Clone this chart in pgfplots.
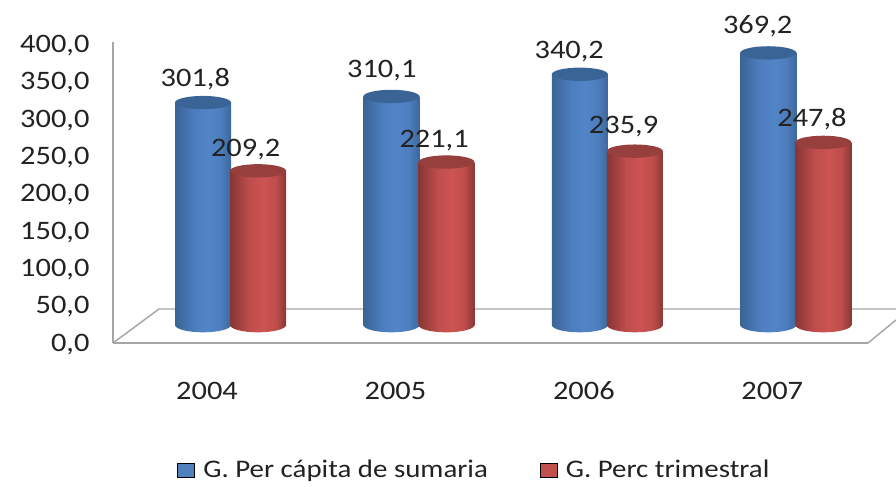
\documentclass[border=0pt]{standalone}
\usepackage{pgfplots}
\usepackage{fontspec}
\setmainfont[FakeStretch=1.14]{Carlito}
\pgfplotsset{compat=1.18}
\definecolor{txt}{HTML}{222222}
\definecolor{axl}{HTML}{A6A6A6}
\definecolor{bl}{HTML}{4F81BD}
\definecolor{rd}{HTML}{C0504D}
\definecolor{bltop}{HTML}{3A6496}
\definecolor{rdtop}{HTML}{963F3C}
\pgfdeclarehorizontalshading{blueCyl}{100bp}{rgb(0bp)=(0.227,0.392,0.588);rgb(25bp)=(0.227,0.392,0.588);rgb(42bp)=(0.300,0.490,0.745);rgb(55bp)=(0.322,0.522,0.784);rgb(66bp)=(0.300,0.490,0.745);rgb(75bp)=(0.235,0.408,0.608);rgb(100bp)=(0.235,0.408,0.608)}
\pgfdeclarehorizontalshading{redCyl}{100bp}{rgb(0bp)=(0.529,0.212,0.204);rgb(25bp)=(0.529,0.212,0.204);rgb(42bp)=(0.745,0.302,0.298);rgb(55bp)=(0.804,0.329,0.322);rgb(66bp)=(0.745,0.302,0.298);rgb(75bp)=(0.541,0.22,0.212);rgb(100bp)=(0.541,0.22,0.212)}
\pgfdeclareplotmark{topB}{\fill[bltop,draw=none,rotate=6] (canvas cs:x=0pt,y=0pt) ellipse [x radius=21pt,y radius=5pt];}
\pgfdeclareplotmark{topR}{\fill[rdtop,draw=none,rotate=6] (canvas cs:x=0pt,y=0pt) ellipse [x radius=21pt,y radius=5pt];}
\pgfdeclareplotmark{botB}{\shade[shading=blueCyl,draw=none,rotate=3] (canvas cs:x=0pt,y=0pt) ellipse [x radius=21pt,y radius=5.5pt];}
\pgfdeclareplotmark{botR}{\shade[shading=redCyl,draw=none,rotate=3] (canvas cs:x=0pt,y=0pt) ellipse [x radius=21pt,y radius=5.5pt];}
% one cylinder: #1 blue/red marks suffix, #2 shading, #3 group shift, #4 label xshift, #5 label yshift, #6 x, #7 value
\newcommand{\cyl}[7]{%
  \addplot[only marks,mark=bot#1,xshift=#3,forget plot] coordinates {(#6,0)};
  \addplot[ybar,bar width=42pt,bar shift=0pt,draw=none,shading=#2,xshift=#3,forget plot,
    nodes near coords,every node near coord/.append style={xshift=#4,yshift=#5}] coordinates {(#6,#7)};
  \addplot[only marks,mark=top#1,xshift=#3,forget plot] coordinates {(#6,#7)};
}
\newcommand{\px}[2]{({#1*0.75pt},{(486-#2)*0.75pt})}
\begin{document}
\begin{tikzpicture}
\useasboundingbox (0,0) rectangle (672pt,364.5pt);
\draw[axl,line width=1.1pt] \px{113}{343} -- \px{159}{309} -- \px{896}{309};
\draw[axl,line width=1.1pt] \px{868}{343} -- \px{896}{320};
\begin{axis}[
  at={(84.75pt,107.25pt)},anchor=south west,
  scale only axis,width=566.25pt,height=225.75pt,
  xmin=-0.499,xmax=3.508,ymin=-2.7,ymax=400,
  axis x line=bottom,axis y line=left,
  axis line style={-,axl,line width=1.1pt},
  tick style={draw=none},
  xtick={0,1,2,3},xticklabels={2004,2005,2006,2007},
  ytick={0,50,100,150,200,250,300,350,400},
  /pgf/number format/.cd,fixed,fixed zerofill,precision=1,use comma,assume math mode=true,1000 sep={},
  /pgfplots/.cd,
  tick label style={font=\fontsize{20pt}{22pt}\selectfont,text=txt},
  xticklabel style={yshift=-24pt,text height=13pt,text depth=0pt},
  yticklabel style={xshift=-12pt,yshift=-2.5pt},
]
\addplot[draw=none,forget plot] coordinates {(0,0)};
\end{axis}
\begin{axis}[
  at={(84.75pt,120.75pt)},anchor=south west,
  scale only axis,width=566.25pt,height=221.1pt,
  xmin=-0.499,xmax=3.508,ymin=0,ymax=400,
  hide axis,clip=false,
  /pgf/number format/.cd,fixed,fixed zerofill,precision=1,use comma,assume math mode=true,1000 sep={},
  /pgfplots/.cd,
  legend columns=2,
  legend style={at={(0.085,-0.492)},anchor=west,draw=none,fill=none,
    font=\fontsize{19pt}{21pt}\selectfont,text=txt,
    /tikz/every odd column/.append style={column sep=4.5pt},
    /tikz/every even column/.append style={column sep=37pt},
    inner sep=0pt},
  legend image code/.code={\fill[#1] (0pt,-5.5pt) rectangle (12.5pt,5pt);},
  every node near coord/.append style={font=\fontsize{20pt}{22pt}\selectfont,text=txt,anchor=center},
]
\cyl{B}{blueCyl}{-3pt}{-5.75pt}{17.5pt}{0}{301.8}
\cyl{R}{redCyl}{38.25pt}{-9.25pt}{16pt}{0}{209.2}
\cyl{B}{blueCyl}{-3pt}{-7.25pt}{19.75pt}{1}{310.1}
\cyl{R}{redCyl}{38.25pt}{-9.25pt}{16pt}{1}{221.1}
\cyl{B}{blueCyl}{-3pt}{-8pt}{16.75pt}{2}{340.2}
\cyl{R}{redCyl}{38.25pt}{-8.5pt}{18.25pt}{2}{235.9}
\cyl{B}{blueCyl}{-3pt}{-8pt}{19.75pt}{3}{369.2}
\cyl{R}{redCyl}{38.25pt}{-8.5pt}{17.5pt}{3}{247.8}
\addlegendimage{fill=bl}
\addlegendentry{G. Per cápita de sumaria}
\addlegendimage{fill=rd}
\addlegendentry{G. Perc trimestral}
\end{axis}
\end{tikzpicture}
\end{document}
